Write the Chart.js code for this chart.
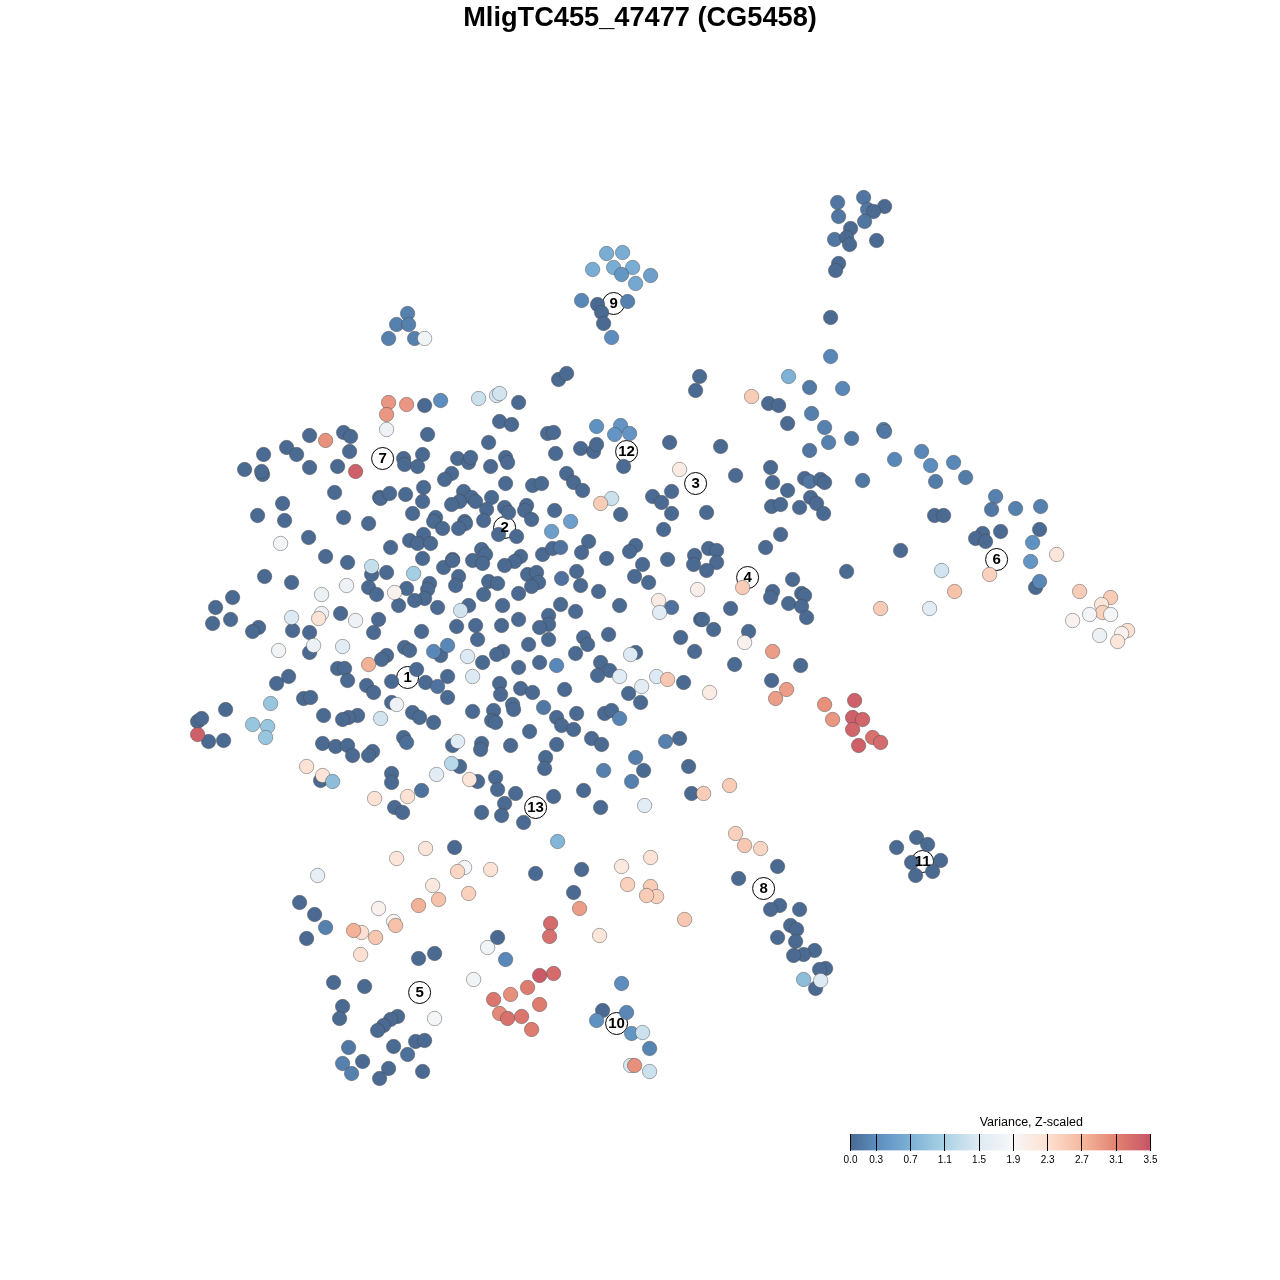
<!DOCTYPE html>
<html>
<head>
<meta charset="utf-8">
<title>MligTC455_47477 (CG5458)</title>
<script src="https://cdn.jsdelivr.net/npm/chart.js@4"></script>
<style>
  html, body { margin: 0; padding: 0; background: #fff; overflow: hidden; }
  #wrap { position: relative; width: 1280px; height: 1280px; }
  #mapChart { position: absolute; left: 0; top: 0; }
  #scaleChart { position: absolute; left: 830px; top: 1112px; }
</style>
</head>
<body>
<div id="wrap">
  <canvas id="mapChart" width="1280" height="1280"></canvas>
  <canvas id="scaleChart" width="350" height="60"></canvas>
</div>
<script>
// ---------- Data: [tsne x, tsne y, variance] ----------
const chartTitle = 'MligTC455_47477 (CG5458)';
const scaleTitle = 'Variance, Z-scaled';

const westCells = [
  [424,405,0],[427,434,0],[309,435,0],[343,432,0],[350,436,0],[349,451,0],[286,447,0],[296,454,0],[263,454,0],
  [244,469,0],[262,474,0],[261,471,0],[309,467,0],[337,466,0],[403,458,0],[404,464,0],[422,454,0],[417,466,0],
  [334,492,0],[282,503,0],[257,515,0],[284,520,0],[343,517,0],[368,523,0],[379,497,0],[380,498,0],[389,493,0],
  [405,494,0],[423,487,0],[422,501,0],[412,513,0],[308,537,0],[390,547,0],[409,540,0],[423,534,0],[417,543,0],
  [430,543,0],[325,556,0],[347,562,0],[422,558,0],[371,574,0],[386,572,0],[264,576,0],[291,582,0],[368,587,0],
  [376,594,0],[406,588,0],[429,583,0],[427,589,0],[424,598,0],[414,600,0],[398,605,0],[437,607,0],[232,597,0],
  [215,607,0],[230,619,0],[212,623,0],[258,627,0],[252,631,0],[340,613,0],[378,619,0],[373,632,0],[292,630,0],
  [309,632,0],[421,631,0],[309,652,0],[404,647,0],[409,650,0],[440,655,0],[386,655,0],[381,659,0],[337,668,0],
  [344,668,0],[288,676,0],[276,683,0],[347,680,0],[416,669,0],[391,681,0],[425,682,0],[437,686,0.08],[447,697,0],
  [366,685,0],[373,692,0],[391,702,0],[412,712,0],[419,717,0],[433,722,0],[323,715,0],[357,715,0],[348,717,0],
  [342,719,0],[303,698,0],[310,697,0],[225,709,0],[197,721,0],[201,718,0],[208,741,0],[223,740,0],[322,743,0],
  [335,746,0],[347,745,0],[352,755,0],[372,751,0],[368,755,0],[403,737,0],[406,742,0.04],[320,780,0],[391,773,0],
  [391,782,0],[421,790,0.08],[394,807,0],[402,812,0]
];
const westPale = [
  [388,402,2.95],[406,404,2.95],[386,414,2.95],[440,400,0.3],[386,429,1.75],[325,440,3.0],[355,471,3.4],
  [280,543,1.85],[371,566,1.3],[413,573,1.05],[346,585,1.75],[321,594,1.7],[394,592,2.0],[291,617,1.5],
  [321,613,1.75],[318,618,2.25],[355,620,1.75],[278,650,1.8],[313,645,1.7],[342,646,1.55],[433,651,0.25],
  [447,645,0.25],[368,664,2.75],[396,704,1.75],[380,718,1.4],[270,703,0.95],[197,734,3.4],[252,724,0.95],
  [267,726,0.95],[265,737,0.95],[306,766,2.25],[322,775,2.25],[332,781,0.85],[374,798,2.25],[407,796,2.25]
];
const centreCells = [
  [518,402,0],[558,379,0],[566,373,0],[499,421,0],[511,424,0],[547,433,0],[553,432,0],[488,442,0],[580,448,0],
  [593,451,0],[596,444,0],[669,442,0],[555,453,0],[623,466,0],[457,458,0],[468,462,0],[470,457,0],[490,466,0],
  [505,457,0],[507,462,0],[566,473,0],[573,482,0],[582,490,0],[505,483,0],[532,485,0],[541,483,0],[451,473,0],
  [444,479,0],[463,491,0],[471,497,0],[475,501,0],[459,501,0],[451,504,0],[491,497,0],[504,507,0],[508,512,0],
  [486,509,0],[526,505,0],[524,510,0],[531,519,0],[554,510,0],[483,520,0],[435,517,0],[433,521,0],[442,528,0],
  [464,521,0],[465,523,0],[458,528,0],[620,514,0],[652,496,0],[661,502,0],[671,491,0],[671,513,0],[663,529,0],
  [498,534,0],[516,536,0],[481,549,0],[485,554,0],[472,560,0],[482,563,0],[520,556,0],[514,561,0],[504,565,0],
  [542,554,0],[552,548,0],[560,547,0.08],[588,541,0],[581,552,0],[606,558,0],[635,545,0],[629,551,0],[642,564,0],
  [667,559,0],[443,567,0],[452,559,0],[452,560,0],[458,576,0],[455,585,0],[527,574,0],[536,572,0],[538,582,0],
  [531,586,0],[488,581,0],[497,583,0],[561,578,0.08],[576,571,0],[580,585,0],[634,576,0],[648,582,0],[598,591,0],
  [483,594,0],[518,593,0],[468,605,0],[502,605,0],[560,604,0],[575,611,0],[619,605,0],[671,607,0.08],[518,619,0],
  [548,615,0],[548,624,0],[539,627,0],[501,625,0],[475,625,0],[456,626,0],[477,639,0],[548,639,0],[528,644,0],
  [583,637,0],[587,644,0],[608,634,0],[680,637,0],[700,619,0],[694,651,0],[575,653,0],[502,651,0],[496,654,0],
  [539,662,0],[518,667,0],[482,662,0],[600,662,0],[609,670,0],[597,675,0],[635,652,0],[683,682,0],[499,683,0],
  [500,694,0],[520,688,0],[532,692,0],[564,689,0],[628,693,0],[640,702,0],[447,676,0],[472,711,0],[493,710,0],
  [491,720,0],[495,722,0],[512,704,0.03],[513,709,0],[556,717,0],[561,725,0],[573,729,0],[576,713,0],[529,731,0],
  [604,713,0],[611,710,0],[591,738,0],[601,744,0],[679,738,0],[556,744,0],[510,745,0],[481,743,0],[480,749,0],
  [452,745,0],[545,757,0],[544,768,0],[459,766,0],[643,770,0],[688,766,0],[495,777,0],[477,781,0],[497,789,0],
  [515,793,0],[504,803,0],[501,815,0],[481,812,0],[523,822,0],[553,796,0],[583,790,0],[600,807,0],[691,793,0]
];
const centrePale = [
  [478,398,1.35],[496,395,1.45],[499,393,1.4],[596,426,0.35],[620,425,0.38],[614,434,0.38],[629,433,0.38],
  [679,469,2.1],[611,498,1.35],[600,503,2.5],[570,521,0.5],[551,531,0.5],[460,610,1.4],[658,600,2.1],
  [659,612,1.55],[697,589,2.05],[467,656,1.5],[556,665,0.25],[630,654,1.5],[619,676,1.55],[656,676,1.5],
  [667,679,2.55],[641,686,1.6],[709,692,2.1],[472,676,1.5],[543,707,0.12],[619,718,0.22],[665,741,0.2],
  [457,741,1.55],[451,763,1.2],[436,774,1.55],[469,779,2.2],[635,757,0.17],[603,770,0.2],[631,781,0.2],
  [644,805,1.55],[703,793,2.5],[729,785,2.5],[557,841,0.75]
];
const eastCells = [
  [699,376,0],[695,390,0],[830,317,0],[768,403,0],[778,405,0],[787,423,0],[809,387,0.14],[809,450,0.1],[851,438,0.12],
  [720,446,0],[735,475,0],[770,467,0],[772,482,0],[804,478,0],[809,481,0.1],[820,479,0],[824,482,0],[787,490,0],
  [810,497,0],[816,503,0],[799,507,0],[771,506,0],[780,504,0],[823,513,0],[862,480,0.12],[706,512,0],[934,515,0],
  [943,515,0],[1039,529,0],[982,533,0],[1000,531,0],[975,538,0],[985,541,0],[900,550,0],[846,571,0],[780,534,0],
  [765,547,0],[708,548,0],[716,550,0],[694,555,0],[693,564,0],[716,562,0],[706,570,0],[1035,587,0],[772,591,0],
  [770,597,0],[792,579,0],[801,593,0],[804,595,0],[788,603,0],[801,606,0],[806,617,0],[730,608,0],[702,619,0],
  [713,629,0],[748,631,0],[800,665,0],[734,664,0],[771,680,0]
];
const eastPale = [
  [751,396,2.5],[788,376,0.7],[842,388,0.25],[830,356,0.25],[811,413,0.18],[824,427,0.2],[828,442,0.2],
  [883,429,0.2],[884,431,0.12],[894,459,0.25],[921,451,0.25],[930,465,0.3],[953,462,0.25],[935,481,0.15],
  [965,477,0.15],[995,496,0.2],[991,509,0.12],[1015,508,0.2],[1040,506,0.2],[1032,542,0.35],[1030,561,0.4],
  [941,570,1.4],[989,574,2.45],[1056,554,2.2],[954,591,2.6],[880,608,2.5],[929,608,1.55],[1039,581,0.25],
  [1079,591,2.5],[1110,597,2.5],[1101,604,2.2],[1102,612,2.45],[1110,614,1.85],[1089,614,1.85],[1072,620,2.0],
  [1099,635,1.7],[1127,630,2.3],[1121,633,2.0],[1117,641,2.2],[742,587,2.5],[744,642,2.0],[772,651,2.9],
  [786,689,2.9],[775,698,2.9],[824,704,3.0],[832,719,2.95],[854,700,3.4],[852,717,3.4],[862,719,3.35],
  [852,729,3.35],[872,737,3.25],[880,742,3.3],[858,745,3.4]
];
const topClusters = [
  [863,197,0.1],[837,202,0.1],[884,206,0],[867,209,0.1],[873,211,0],[838,216,0.1],[864,221,0.1],[850,228,0],
  [834,239,0.1],[846,237,0],[849,244,0],[876,240,0],[838,263,0],[835,270,0],
  [606,253,0.65],[622,252,0.65],[613,267,0.65],[592,269,0.65],[632,267,0.65],[621,274,0.4],[650,275,0.5],
  [635,283,0.6],[581,300,0.25],[597,304,0],[627,301,0.2],[601,312,0],[603,323,0],[611,337,0.3],
  [407,313,0.2],[396,324,0.2],[408,324,0.2],[388,338,0.2],[414,338,0.2],[424,338,1.8]
];
const lowerEastClusters = [
  [916,837,0],[927,844,0],[896,847,0],[911,862,0],[940,860,0],[915,875,0],[932,871,0],
  [735,833,2.45],[744,845,2.55],[760,848,2.4],[777,866,0],[738,878,0],[779,905,0],[770,909,0],[799,909,0],
  [790,925,0],[777,937,0],[796,929,0],[795,941,0],[814,950,0],[803,954,0],[793,955,0],[825,968,0],[819,969,0],
  [803,979,0.85],[815,988,0],[820,980,1.5]
];
const southCells = [
  [454,847,0],[535,873,0],[581,869,0],[573,892,0],[299,902,0],[314,914,0],[306,938,0],[497,937,0],[418,958,0],
  [434,953,0],[333,982,0],[364,986,0],[342,1006,0],[339,1018,0],[397,1016,0],[390,1019,0],[383,1025,0],[377,1030,0],
  [602,1010,0],[393,1046,0],[415,1041,0],[424,1040,0],[407,1054,0.06],[362,1061,0],[388,1068,0],[379,1078,0],[422,1071,0]
];
const southPale = [
  [396,858,2.2],[425,848,2.2],[317,875,1.65],[464,867,1.85],[457,871,2.4],[490,869,2.25],[621,866,2.15],[650,857,2.25],
  [432,885,2.15],[438,899,2.6],[418,905,2.75],[468,893,2.45],[579,908,2.9],[627,884,2.45],[650,886,2.5],[656,896,2.45],
  [646,895,2.5],[684,919,2.55],[325,927,0.2],[378,908,2.0],[393,921,1.95],[395,925,2.6],[361,932,2.3],[353,930,2.75],
  [375,937,2.55],[360,954,2.3],[550,923,3.3],[549,936,3.25],[599,935,2.2],[487,947,1.8],[505,959,0.25],[473,979,1.8],
  [553,973,3.3],[539,975,3.45],[527,987,3.15],[510,994,3.0],[493,999,3.2],[539,1004,3.15],[499,1013,3.05],[507,1018,3.25],
  [521,1016,3.2],[531,1029,3.15],[621,983,0.3],[434,1018,1.85],[626,1012,0.25],[596,1020,0.35],[631,1033,0.4],
  [642,1032,1.35],[649,1048,0.22],[630,1065,1.45],[634,1065,3.0],[649,1071,1.35],[348,1047,0.12],[342,1063,0.2],[351,1073,0.2]
];

// cluster markers
const clusterIds = ['1','2','3','4','5','6','7','8','9','10','11','12','13'];
const clusterX = [407,504,695,747,419,996,382,763,613,616,922,626,535];
const clusterY = [677,527,483,577,992,559,458,888,303,1023,861,451,807];

// colour bar
const scaleTicks = [0.0,0.3,0.7,1.1,1.5,1.9,2.3,2.7,3.1,3.5];
const scaleColors = ['#4a6a92','#5c8dbe','#7db1d6','#aad2e5','#deeaf3','#f7f7f7','#fde0d1','#f5b89d','#e28271','#c65466'];

// ---------- Colour helpers ----------
function hexToRgb(h) {
  return [1, 3, 5].map(i => parseInt(h.slice(i, i + 2), 16));
}

function varianceColor(v) {
  let i = 0;
  while (i < scaleTicks.length - 2 && v > scaleTicks[i + 1]) i++;
  const t = (v - scaleTicks[i]) / (scaleTicks[i + 1] - scaleTicks[i]);
  const a = hexToRgb(scaleColors[i]);
  const b = hexToRgb(scaleColors[i + 1]);
  const c = a.map((x, k) => Math.round(x + (b[k] - x) * t));
  return `rgb(${c[0]},${c[1]},${c[2]})`;
}

const font = 'Liberation Sans, Arial, Helvetica, sans-serif';

// ---------- Map ----------
const cells = [].concat(westCells, centreCells, eastCells, westPale, centrePale, eastPale,
  topClusters, lowerEastClusters, southCells, southPale);

// writes the number in each cluster circle
const clusterText = {
  id: 'clusterText',
  afterDatasetsDraw(chart) {
    const ctx = chart.ctx;
    const meta = chart.getDatasetMeta(1);
    ctx.save();
    ctx.font = 'bold 15px ' + font;
    ctx.fillStyle = '#000';
    ctx.textAlign = 'center';
    ctx.textBaseline = 'middle';
    meta.data.forEach((pt, i) => ctx.fillText(clusterIds[i], pt.x, pt.y + 0.5));
    ctx.restore();
  }
};

new Chart(document.getElementById('mapChart'), {
  type: 'scatter',
  data: {
    datasets: [{
      data: cells.map(c => ({ x: c[0], y: c[1] })),
      backgroundColor: cells.map(c => varianceColor(c[2])),
      borderColor: 'rgba(70,70,70,0.45)',
      borderWidth: 1,
      pointRadius: 7.2
    }, {
      data: clusterX.map((x, i) => ({ x: x, y: clusterY[i] })),
      backgroundColor: '#fff',
      borderColor: '#000',
      borderWidth: 1,
      pointRadius: 11
    }]
  },
  options: {
    responsive: false,
    animation: false,
    layout: { padding: 0, autoPadding: false },
    plugins: {
      legend: { display: false },
      tooltip: { enabled: false },
      title: {
        display: true,
        text: chartTitle,
        color: '#000',
        font: { family: font, size: 27.2, weight: 'bold', lineHeight: '32px' },
        padding: { top: 3, bottom: 5 }
      }
    },
    scales: {
      x: { type: 'linear', display: false, min: -0.6, max: 1279.4 },
      y: { type: 'linear', display: false, reverse: true, min: 39.5, max: 1279.5 }
    }
  },
  plugins: [clusterText]
});

// ---------- Colour bar ----------
const barTitle = {
  id: 'barTitle',
  afterDraw(chart) {
    const ctx = chart.ctx;
    ctx.save();
    ctx.font = '12.5px ' + font;
    ctx.fillStyle = '#000';
    ctx.textAlign = 'center';
    ctx.textBaseline = 'middle';
    ctx.fillText(scaleTitle, chart.scales.x.getPixelForValue(2.11), 11);
    ctx.restore();
  }
};

function barGradient(context) {
  const { ctx, chartArea } = context.chart;
  if (!chartArea) return scaleColors[0];
  const g = ctx.createLinearGradient(chartArea.left, 0, chartArea.right, 0);
  scaleTicks.forEach((t, i) => g.addColorStop(t / 3.5, scaleColors[i]));
  return g;
}

new Chart(document.getElementById('scaleChart'), {
  type: 'bar',
  data: {
    labels: ['variance'],
    datasets: [{
      data: [[scaleTicks[0], scaleTicks[scaleTicks.length - 1]]],
      backgroundColor: barGradient,
      borderWidth: 0,
      barPercentage: 1,
      categoryPercentage: 1
    }]
  },
  options: {
    indexAxis: 'y',
    responsive: false,
    animation: false,
    layout: { padding: { left: 20.5, right: 29.5, top: 22, bottom: 5 }, autoPadding: false },
    plugins: { legend: { display: false }, tooltip: { enabled: false } },
    scales: {
      y: { display: false },
      x: {
        type: 'linear',
        min: 0,
        max: 3.5,
        border: { display: false },
        grid: { color: '#000', lineWidth: 1, z: 1, drawTicks: false },
        afterBuildTicks: axis => { axis.ticks = scaleTicks.map(v => ({ value: v })); },
        ticks: {
          autoSkip: false,
          maxRotation: 0,
          padding: 4,
          color: '#000',
          font: { family: font, size: 10 },
          callback: v => v.toFixed(1)
        }
      }
    }
  },
  plugins: [barTitle]
});
</script>
</body>
</html>
